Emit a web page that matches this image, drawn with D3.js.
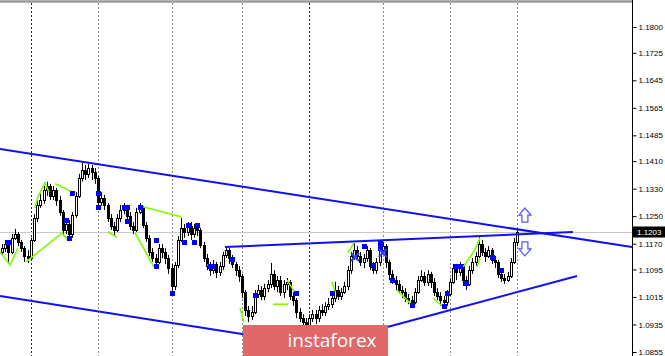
<!DOCTYPE html>
<html><head><meta charset="utf-8">
<script src="https://cdn.jsdelivr.net/npm/d3@7"></script>
<style>html,body{margin:0;padding:0;background:#fff;overflow:hidden}</style>
</head><body>
<svg id="c" width="665" height="356"></svg>
<script>
// ---------- data ----------
const opens = [
1.1146,1.1157,1.1169,1.1146,1.1187,1.1198,1.1175,1.1157,1.1134,1.1128,
1.1181,1.1245,1.1283,1.1297,1.1326,1.1338,1.1309,1.1326,1.1297,1.1262,
1.1210,1.1227,1.1198,1.1254,1.1309,1.1361,1.1384,1.1373,1.1390,1.1379,
1.1361,1.1291,1.1303,1.1283,1.1245,1.1221,1.1210,1.1245,1.1268,1.1274,
1.1251,1.1221,1.1210,1.1262,1.1274,1.1224,1.1187,1.1146,1.1128,1.1117,
1.1157,1.1146,1.1128,1.1099,1.1047,1.1108,1.1181,1.1216,1.1204,1.1221,
1.1198,1.1216,1.1210,1.1166,1.1128,1.1105,1.1093,1.1111,1.1088,1.1105,
1.1137,1.1152,1.1128,1.1111,1.1093,1.1076,1.1029,1.0977,1.0960,1.0971,
1.1024,1.1035,1.1018,1.1041,1.1053,1.1082,1.1047,1.1064,1.1029,1.1053,
1.1059,1.1018,1.1006,1.0971,1.0954,1.0942,1.0931,1.0954,1.0965,1.0954,
1.0977,1.0971,1.0989,1.0994,1.1012,1.1035,1.1018,1.1029,1.1047,1.1093,
1.1134,1.1152,1.1134,1.1117,1.1128,1.1152,1.1105,1.1093,1.1117,1.1152,
1.1163,1.1117,1.1082,1.1064,1.1053,1.1035,1.1029,1.1012,1.1006,1.1000,
1.1029,1.1064,1.1076,1.1059,1.1082,1.1059,1.1029,1.1018,1.1006,1.1000,
1.1024,1.1059,1.1099,1.1088,1.1105,1.1064,1.1053,1.1093,1.1117,1.1134,
1.1169,1.1146,1.1134,1.1152,1.1123,1.1117,1.1082,1.1070,1.1064,1.1076,
1.1117,1.1175];
const closes = [
1.1157,1.1169,1.1146,1.1187,1.1198,1.1175,1.1157,1.1134,1.1128,1.1181,
1.1245,1.1283,1.1297,1.1326,1.1338,1.1309,1.1326,1.1297,1.1262,1.1210,
1.1227,1.1198,1.1254,1.1309,1.1361,1.1384,1.1373,1.1390,1.1379,1.1361,
1.1291,1.1303,1.1283,1.1245,1.1221,1.1210,1.1245,1.1268,1.1274,1.1251,
1.1221,1.1210,1.1262,1.1274,1.1224,1.1187,1.1146,1.1128,1.1117,1.1157,
1.1146,1.1128,1.1099,1.1047,1.1108,1.1181,1.1216,1.1204,1.1221,1.1198,
1.1216,1.1210,1.1166,1.1128,1.1105,1.1093,1.1111,1.1088,1.1105,1.1137,
1.1152,1.1128,1.1111,1.1093,1.1076,1.1029,1.0977,1.0960,1.0971,1.1024,
1.1035,1.1018,1.1041,1.1053,1.1082,1.1047,1.1064,1.1029,1.1053,1.1059,
1.1018,1.1006,1.0971,1.0954,1.0942,1.0931,1.0954,1.0965,1.0954,1.0977,
1.0971,1.0989,1.0994,1.1012,1.1035,1.1018,1.1029,1.1047,1.1093,1.1134,
1.1152,1.1134,1.1117,1.1128,1.1152,1.1105,1.1093,1.1117,1.1152,1.1163,
1.1117,1.1082,1.1064,1.1053,1.1035,1.1029,1.1012,1.1006,1.1000,1.1029,
1.1064,1.1076,1.1059,1.1082,1.1059,1.1029,1.1018,1.1006,1.1000,1.1024,
1.1059,1.1099,1.1088,1.1105,1.1064,1.1053,1.1093,1.1117,1.1134,1.1169,
1.1146,1.1134,1.1152,1.1123,1.1117,1.1082,1.1070,1.1064,1.1076,1.1117,
1.1175,1.1203];
const highs = [
1.1169,1.1181,1.1175,1.1198,1.1213,1.1204,1.1181,1.1163,1.1152,1.1187,
1.1256,1.1297,1.1315,1.1338,1.1350,1.1344,1.1338,1.1332,1.1309,1.1268,
1.1245,1.1239,1.1262,1.1320,1.1373,1.1405,1.1399,1.1402,1.1399,1.1390,
1.1367,1.1320,1.1312,1.1288,1.1256,1.1233,1.1256,1.1283,1.1288,1.1283,
1.1262,1.1233,1.1274,1.1288,1.1280,1.1233,1.1195,1.1157,1.1140,1.1169,
1.1169,1.1157,1.1137,1.1111,1.1117,1.1192,1.1245,1.1227,1.1233,1.1233,
1.1227,1.1230,1.1216,1.1175,1.1140,1.1117,1.1123,1.1117,1.1117,1.1146,
1.1163,1.1157,1.1137,1.1117,1.1105,1.1082,1.1035,1.0989,1.0989,1.1035,
1.1050,1.1047,1.1053,1.1064,1.1114,1.1093,1.1076,1.1076,1.1064,1.1070,
1.1064,1.1029,1.1012,1.0983,1.0965,1.0954,1.0965,1.0977,1.0977,1.0989,
1.0994,1.1000,1.1012,1.1024,1.1059,1.1047,1.1041,1.1059,1.1105,1.1146,
1.1172,1.1163,1.1146,1.1140,1.1163,1.1157,1.1117,1.1128,1.1163,1.1175,
1.1169,1.1123,1.1093,1.1076,1.1064,1.1047,1.1041,1.1024,1.1018,1.1041,
1.1076,1.1093,1.1088,1.1093,1.1088,1.1070,1.1041,1.1029,1.1018,1.1035,
1.1070,1.1111,1.1111,1.1117,1.1111,1.1076,1.1105,1.1128,1.1146,1.1192,
1.1181,1.1157,1.1163,1.1157,1.1134,1.1123,1.1093,1.1082,1.1088,1.1128,
1.1187,1.1213];
const lows = [
1.1134,1.1146,1.1111,1.1140,1.1181,1.1163,1.1146,1.1117,1.1114,1.1123,
1.1175,1.1233,1.1274,1.1286,1.1309,1.1297,1.1297,1.1280,1.1251,1.1192,
1.1198,1.1181,1.1187,1.1245,1.1303,1.1350,1.1355,1.1361,1.1355,1.1344,
1.1274,1.1280,1.1268,1.1233,1.1210,1.1192,1.1204,1.1233,1.1256,1.1239,
1.1210,1.1198,1.1204,1.1256,1.1216,1.1175,1.1134,1.1117,1.1105,1.1111,
1.1128,1.1111,1.1082,1.1027,1.1035,1.1099,1.1175,1.1187,1.1192,1.1181,
1.1187,1.1192,1.1157,1.1117,1.1093,1.1076,1.1082,1.1070,1.1076,1.1093,
1.1128,1.1111,1.1099,1.1076,1.1059,1.1012,1.0960,1.0942,1.0948,1.0965,
1.1012,1.1006,1.1006,1.1029,1.1041,1.1035,1.1029,1.1018,1.1012,1.1035,
1.1006,1.0989,1.0954,1.0942,1.0919,1.0907,1.0919,1.0942,1.0936,1.0942,
1.0960,1.0960,1.0977,1.0983,1.1000,1.1006,1.1006,1.1024,1.1035,1.1082,
1.1123,1.1123,1.1105,1.1099,1.1117,1.1093,1.1082,1.1082,1.1105,1.1140,
1.1099,1.1064,1.1053,1.1035,1.1024,1.1012,1.1000,1.0994,1.0989,1.0994,
1.1024,1.1059,1.1047,1.1047,1.1041,1.1018,1.1006,1.0989,1.0986,1.0989,
1.1018,1.1053,1.1064,1.1076,1.1047,1.1035,1.1047,1.1082,1.1105,1.1128,
1.1134,1.1117,1.1128,1.1111,1.1099,1.1070,1.1059,1.1053,1.1059,1.1070,
1.1111,1.1163];

const priceTicks = [1.1800,1.1725,1.1645,1.1565,1.1485,1.1410,1.1330,1.1250,1.1170,1.1095,1.1015,1.0935,1.0855];
const lastPrice = 1.1203;
const separatorBars = [9, 30, 53, 75, 96, 119, 140, 161];
const separatorDark = [true, false, false, false, true, false, false, false];

// trend lines: [barIndex0, price0, barIndex1, price1]
const channelUpper = [-0.625, 1.1445, 196.875, 1.1160];
const channelLower = [-0.625, 1.1018, 77.5, 1.0904];
const triangleTop = [69.7, 1.1160, 178.4, 1.1204];
const triangleBottom = [118.1, 1.0922, 179.7, 1.1076];

// green zigzag polylines: [barIndex, price] points
const zigzag = [
  [[-0.6,1.1146],[2.5,1.1108],[5,1.1157]],
  [[7.5,1.1117],[18.75,1.1201],[20.6,1.1181]],
  [[10.3,1.1274],[11.25,1.1306],[13.4,1.1347],[14.7,1.1320]],
  [[16.6,1.1344],[22.8,1.1317]],
  [[33.1,1.1204],[35.9,1.1189]],
  [[42.8,1.1280],[55.9,1.1248]],
  [[41.6,1.1201],[47.5,1.1102]],
  [[64.1,1.1108],[65.9,1.1105]],
  [[74.4,1.0983],[75.6,1.0942]],
  [[84.7,1.0994],[89.4,1.0994]],
  [[89.1,1.1064],[91.6,1.1027]],
  [[103.1,1.1059],[104.1,1.1029]],
  [[108.1,1.1143],[110,1.1172]],
  [[123.4,1.1035],[128.1,1.0992]],
  [[134.7,1.1012],[137.5,1.0989]],
  [[144.1,1.1102],[147.8,1.1152],[149.4,1.1187]],
  [[148.4,1.1102],[149.4,1.1128]]
];

// blue fractal markers [barIndex, price]
const markers = [
  [2,1.1175],[20,1.1239],[21,1.1187],[22,1.1317],[30,1.1317],[30,1.1277],
  [38,1.1277],[39,1.1277],[39,1.1236],[43,1.1277],[48,1.1181],[48,1.1105],
  [53,1.1027],[57,1.1175],[58,1.1224],[61,1.1224],[60,1.1175],[65,1.1105],
  [66,1.1105],[72,1.1126],[79,1.1021],[92,1.1027],[103,1.1027],[113,1.1163],
  [116,1.1108],[118,1.1172],[118,1.1157],[122,1.1064],[128,1.0992],[138,1.0989],
  [139,1.1027],[142,1.1105],[143,1.1105],[145,1.1056],[153,1.1131],[156,1.1093]
];
const crosses = [[110.3,1.1131],[119,1.1143]];
const arrowUp = [163.4, 1.1253];
const arrowDown = [163.4, 1.1155];

// ---------- drawing ----------
const W = 665, H = 356, plotR = 632;
const svg = d3.select("#c");
const x = d3.scaleLinear().domain([-0.625, 196.875]).range([0, plotR]);
const y = d3.scaleLinear().domain([1.0855, 1.1800]).range([352, 27]);

svg.append("defs").append("clipPath").attr("id","plot")
  .append("rect").attr("x",0).attr("y",0).attr("width",plotR).attr("height",H);
const g = svg.append("g").attr("clip-path","url(#plot)");

// top border
g.append("line").attr("x1",0).attr("x2",plotR).attr("y1",1.5).attr("y2",1.5)
  .attr("stroke","#9a9a9a").attr("stroke-width",2.5);

// period separators
g.selectAll("line.sep").data(separatorBars).enter().append("line")
  .attr("x1",d=>Math.round(x(d))+0.5).attr("x2",d=>Math.round(x(d))+0.5)
  .attr("y1",3).attr("y2",H)
  .attr("stroke",(d,i)=>separatorDark[i]?"#222":"#8a8a8a")
  .attr("stroke-dasharray","2,2").attr("stroke-width",1);

// current price line
g.append("line").attr("x1",0).attr("x2",plotR)
  .attr("y1",Math.round(y(lastPrice))+0.5).attr("y2",Math.round(y(lastPrice))+0.5)
  .attr("stroke","#c8c8c8").attr("stroke-width",1);

// candles
const bars = closes.map((c,i)=>({i,o:opens[i],h:highs[i],l:lows[i],c}));
const cg = g.append("g");
bars.forEach(b=>{
  const k = Math.round(x(b.i));
  cg.append("line").attr("x1",k+0.5).attr("x2",k+0.5)
    .attr("y1",y(b.h)).attr("y2",y(b.l)).attr("stroke","#000").attr("stroke-width",1);
  const top = Math.round(y(Math.max(b.o,b.c)));
  const bot = Math.round(y(Math.min(b.o,b.c)));
  cg.append("rect").attr("x",k-0.5).attr("y",top+0.5).attr("width",2)
    .attr("height",Math.max(bot-top,1))
    .attr("fill",b.c>=b.o?"#fff":"#000").attr("stroke","#000").attr("stroke-width",1);
});

// zigzag
const ln = d3.line().x(d=>x(d[0])).y(d=>y(d[1]));
g.selectAll("path.zz").data(zigzag).enter().append("path")
  .attr("d",ln).attr("fill","none").attr("stroke","#7cfc00").attr("stroke-width",1.6);

// trend lines
[channelUpper, channelLower, triangleTop, triangleBottom].forEach(t=>{
  g.append("line").attr("x1",x(t[0])).attr("y1",y(t[1])).attr("x2",x(t[2])).attr("y2",y(t[3]))
    .attr("stroke","#1010f0").attr("stroke-width",2);
});

// markers
g.selectAll("rect.mk").data(markers).enter().append("rect")
  .attr("x",d=>Math.round(x(d[0]))-2).attr("y",d=>Math.round(y(d[1]))-2)
  .attr("width",5).attr("height",5).attr("fill","#0000ff");
crosses.forEach(d=>{
  const cx = x(d[0]), cy = y(d[1]);
  g.append("path").attr("d",`M${cx-4},${cy-4}L${cx+4},${cy+4}M${cx+4},${cy-4}L${cx-4},${cy+4}`)
    .attr("stroke","#2a3cff").attr("stroke-width",2).attr("fill","none");
});

// arrows
function arrowPath(cx, cy, up){
  const s = up ? -1 : 1;
  const pts = [[cx-6, cy], [cx, cy+7*s], [cx+6, cy], [cx+3, cy], [cx+3, cy-7*s], [cx-3, cy-7*s], [cx-3, cy]];
  return "M" + pts.map(p=>p.join(",")).join("L") + "Z";
}
g.append("path").attr("d",arrowPath(x(arrowUp[0]), y(arrowUp[1]), true))
  .attr("fill","#fff").attr("stroke","#5a5aff").attr("stroke-width",1.3);
g.append("path").attr("d",arrowPath(x(arrowDown[0]), y(arrowDown[1]), false))
  .attr("fill","#fff").attr("stroke","#5a5aff").attr("stroke-width",1.3);

// price axis
const axis = d3.axisRight(y).tickValues(priceTicks).tickSize(4).tickPadding(2)
  .tickFormat(d3.format(".4f"));
const ag = svg.append("g").attr("transform",`translate(${plotR+0.5},0)`).call(axis);
ag.select(".domain").remove();
ag.selectAll("line").attr("stroke","#000");
ag.selectAll("text").attr("font-family","'Liberation Sans', Arial, sans-serif")
  .attr("font-size",8).attr("fill","#000");
svg.append("line").attr("x1",plotR+0.5).attr("x2",plotR+0.5).attr("y1",0).attr("y2",H)
  .attr("stroke","#000").attr("stroke-width",1);

// last price label
const ly = y(lastPrice);
svg.append("rect").attr("x",plotR+1).attr("y",Math.round(ly)-5.5).attr("width",W-plotR-1).attr("height",11).attr("fill","#000");
svg.append("text").attr("x",plotR+5).attr("y",Math.round(ly)+3)
  .attr("font-family","'Liberation Sans', Arial, sans-serif").attr("font-size",8)
  .attr("fill","#fff").text(d3.format(".4f")(lastPrice));

// watermark banner
svg.append("rect").attr("x",243).attr("y",325).attr("width",145).attr("height",31).attr("fill","#e06868");
svg.append("text").attr("x",332).attr("y",347).attr("text-anchor","middle")
  .attr("font-family","'Open Sans', 'Noto Sans', sans-serif").attr("font-size",19)
  .attr("fill","#fff").text("instaforex");
</script>
</body></html>
